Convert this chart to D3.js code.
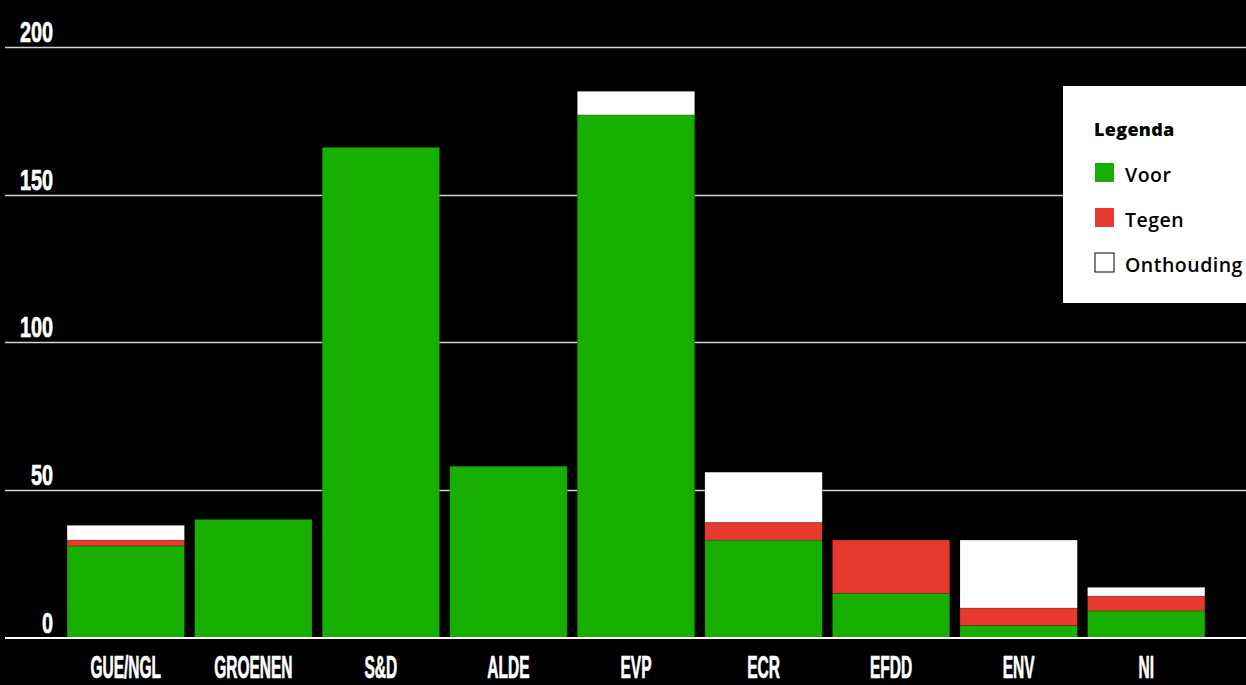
<!DOCTYPE html>
<meta charset="utf-8">
<style>
html, body {
    margin: 0;
    padding: 0;
    background: #000;
}
svg {
    display: block;
}
.tick-label {
    font-family: "Liberation Sans", Arial, sans-serif;
    font-weight: bold;
    fill: #fff;
    stroke: #fff;
    stroke-width: 0.7px;
}
.legend text {
    font-family: "Open Sans", Lato, sans-serif;
    fill: #000;
}
</style>
<body>
<script src="https://cdnjs.cloudflare.com/ajax/libs/d3/7.8.5/d3.min.js"></script>
<script>

// fracties en stemmen
var parties = ["GUE/NGL", "GROENEN", "S&D", "ALDE", "EVP", "ECR", "EFDD", "ENV", "NI"];
var voor = [31, 40, 166, 58, 177, 33, 15, 4, 9];
var tegen = [2, 0, 0, 0, 0, 6, 18, 6, 5];
var onthouding = [5, 0, 0, 0, 8, 17, 0, 23, 3];
var yTicks = [0, 50, 100, 150, 200];

var keys = ["voor", "tegen", "onthouding"];
var labels = {voor: "Voor", tegen: "Tegen", onthouding: "Onthouding"};

var width = 1246,
    height = 685;

var data = parties.map(function(p, i) {
    return {party: p, voor: voor[i], tegen: tegen[i], onthouding: onthouding[i]};
});

var color = d3.scaleOrdinal()
    .domain(keys)
    .range(["#17b000", "#e8392f", "#ffffff"]);

var x = d3.scaleBand()
    .domain(parties)
    .range([62, 1210])
    .paddingInner(0.08)
    .paddingOuter(0.04);

var y = d3.scaleLinear()
    .domain([0, 200])
    .range([637.5, 47]);

var svg = d3.select("body").append("svg")
    .attr("width", width)
    .attr("height", height);

svg.append("rect")
    .attr("width", width)
    .attr("height", height)
    .attr("fill", "#000");

// gridlines
svg.append("g")
    .selectAll("line")
    .data(yTicks.slice(1))
    .enter().append("line")
      .attr("x1", 5)
      .attr("x2", width)
      .attr("y1", function(d) { return Math.round(y(d)) + 0.5; })
      .attr("y2", function(d) { return Math.round(y(d)) + 0.5; })
      .attr("stroke", "#d4d4d4")
      .attr("stroke-width", 1.3);

var layers = d3.stack().keys(keys)(data);

var layer = svg.selectAll(".layer")
    .data(layers)
  .enter().append("g")
    .attr("class", "layer")
    .attr("fill", function(d) { return color(d.key); });

layer.selectAll("rect")
    .data(function(d) { return d.filter(function(s) { return s[1] - s[0] > 0; }); })
  .enter().append("rect")
    .attr("x", function(d) { return x(d.data.party); })
    .attr("y", function(d) { return y(d[1]); })
    .attr("width", x.bandwidth())
    .attr("height", function(d) { return y(d[0]) - y(d[1]); })
    .attr("stroke", "rgba(0,0,0,0.25)")
    .attr("stroke-width", 0.6);

// x-as lijn
svg.append("line")
    .attr("x1", 5)
    .attr("x2", width)
    .attr("y1", y(0) + 0.5)
    .attr("y2", y(0) + 0.5)
    .attr("stroke", "#fff")
    .attr("stroke-width", 2);

// y labels
svg.append("g")
    .selectAll("text")
    .data(yTicks)
    .enter().append("text")
      .attr("class", "tick-label")
      .attr("text-anchor", "end")
      .style("font-size", "30px")
      .attr("transform", function(d) { return "translate(53," + (y(d) - 5) + ") scale(0.66,1)"; })
      .text(function(d) { return d; });

// x labels
svg.append("g")
    .selectAll("text")
    .data(parties)
    .enter().append("text")
      .attr("class", "tick-label")
      .attr("text-anchor", "middle")
      .style("font-size", "31px")
      .attr("transform", function(d) { return "translate(" + (x(d) + x.bandwidth() / 2) + ",678) scale(0.5,1)"; })
      .text(function(d) { return d; });

// legenda
var legend = svg.append("g")
    .attr("class", "legend")
    .attr("transform", "translate(1063,86)");

legend.append("rect")
    .attr("width", 190)
    .attr("height", 217)
    .attr("fill", "#fff");

legend.append("text")
    .attr("x", 31)
    .attr("y", 50)
    .style("font-size", "18px")
    .style("font-weight", 800)
    .style("letter-spacing", "0.3px")
    .text("Legenda");

var item = legend.selectAll(".item")
    .data(keys)
    .enter().append("g")
      .attr("class", "item")
      .attr("transform", function(d, i) { return "translate(32," + (77 + i * 45) + ")"; });

item.append("rect")
    .attr("width", 19)
    .attr("height", 19)
    .attr("fill", function(d) { return color(d); })
    .attr("stroke", function(d) { return d === "onthouding" ? "#000" : "none"; })
    .attr("stroke-width", 1);

item.append("text")
    .attr("x", 30)
    .attr("y", 19)
    .style("font-size", "19.5px")
    .style("font-weight", 600)
    .style("letter-spacing", "0.5px")
    .text(function(d) { return labels[d]; });

</script>
</body>
